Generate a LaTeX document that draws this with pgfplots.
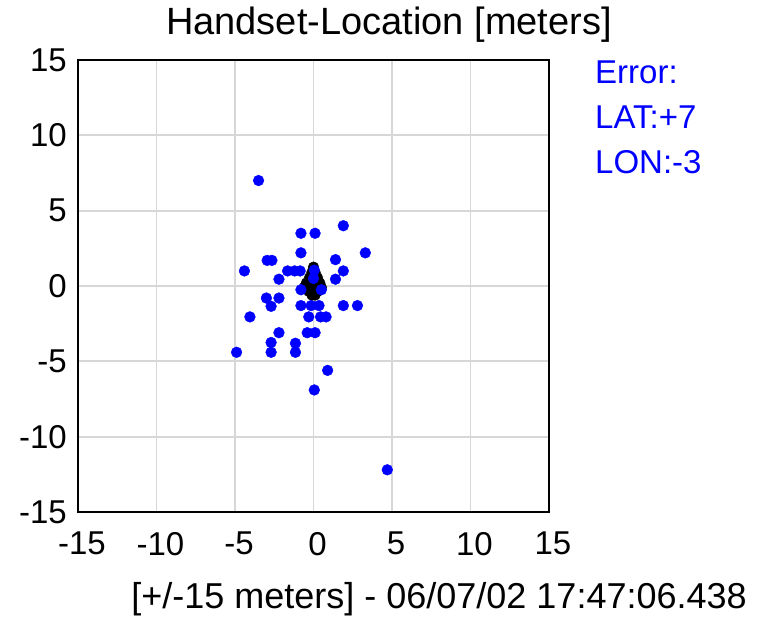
\documentclass[border=0pt]{standalone}
\usepackage{pgfplots}
\pgfplotsset{compat=1.18}
\usepackage{fontspec}
\setmainfont{Liberation Sans}
\definecolor{gridgray}{RGB}{215,215,215}
\definecolor{pblue}{RGB}{0,0,255}
\begin{document}
\begin{tikzpicture}[x=1pt,y=1pt]
\useasboundingbox (-78,-108) rectangle (700,512);
\begin{axis}[
  at={(0,0)}, anchor=south west,
  scale only axis, width=471pt, height=452pt,
  xmin=-15, xmax=15, ymin=-15, ymax=15,
  xtick={-15,-10,...,15}, ytick={-15,-10,...,15},
  grid=major,
  major grid style={gridgray, line width=1.8pt},
  axis line style={black, line width=1.8pt},
  major tick length=0pt,
  tick label style={font=\fontsize{33}{36}\selectfont, inner sep=0pt},
  /pgf/number format/assume math mode=true,
  xticklabel style={anchor=north, yshift=-20pt, xshift=4pt},
  yticklabel style={anchor=east, xshift=-11pt},
  clip=false,
]
\addplot[only marks, mark=*, mark size=5.4pt, mark options={fill=black, draw=black}] coordinates {
(0,1.25) (-0.1,0.9) (0.1,0.9) (-0.25,0.55) (0.25,0.55) (-0.45,0.2) (0.4,0.2)
(-0.6,-0.1) (0.5,-0.1) (0,0.1) (-0.3,-0.35) (0.25,-0.35) (-0.1,-0.6) (0.1,-0.6) (0,-0.3)
};
\addplot[only marks, mark=*, mark size=5.4pt, mark options={fill=pblue, draw=pblue}] coordinates {
(-3.5,7.0) (1.9,4.0) (-0.8,3.5) (0.1,3.5) (3.3,2.2) (-0.8,2.2)
(-2.95,1.7) (-2.65,1.7) (1.4,1.75) (-4.4,1.0) (-1.65,1.0) (-1.2,1.0) (-0.85,1.0)
(1.9,1.0) (-2.2,0.45) (1.4,0.45) (0.05,1.05) (0.0,0.5)
(-0.8,-0.25) (0.5,-0.25) (-3.0,-0.8) (-2.7,-1.35) (-2.2,-0.8)
(-0.8,-1.3) (-0.15,-1.3) (0.35,-1.3) (1.9,-1.3) (2.8,-1.3)
(-4.05,-2.05) (-0.3,-2.05) (0.45,-2.05) (0.8,-2.05)
(-2.2,-3.1) (-0.4,-3.1) (0.1,-3.1)
(-2.7,-3.75) (-1.15,-3.8) (-4.9,-4.4) (-2.7,-4.4) (-1.15,-4.4)
(0.9,-5.6) (0.05,-6.9) (4.7,-12.2)
};
\end{axis}
\node[font=\fontsize{38}{42}\selectfont, inner sep=0pt, anchor=base] at (311,477) {Handset-Location [meters]};
\node[font=\fontsize{36}{42}\selectfont, inner sep=0pt, anchor=base] at (361,-97) {[+/-15 meters] - 06/07/02 17:47:06.438};
\node[font=\fontsize{33}{36}\selectfont, text=pblue, inner sep=0pt, anchor=base west] at (517,428) {Error:};
\node[font=\fontsize{33}{36}\selectfont, text=pblue, inner sep=0pt, anchor=base west] at (517,383) {LAT:+7};
\node[font=\fontsize{33}{36}\selectfont, text=pblue, inner sep=0pt, anchor=base west] at (517,338) {LON:-3};
\end{tikzpicture}
\end{document}
